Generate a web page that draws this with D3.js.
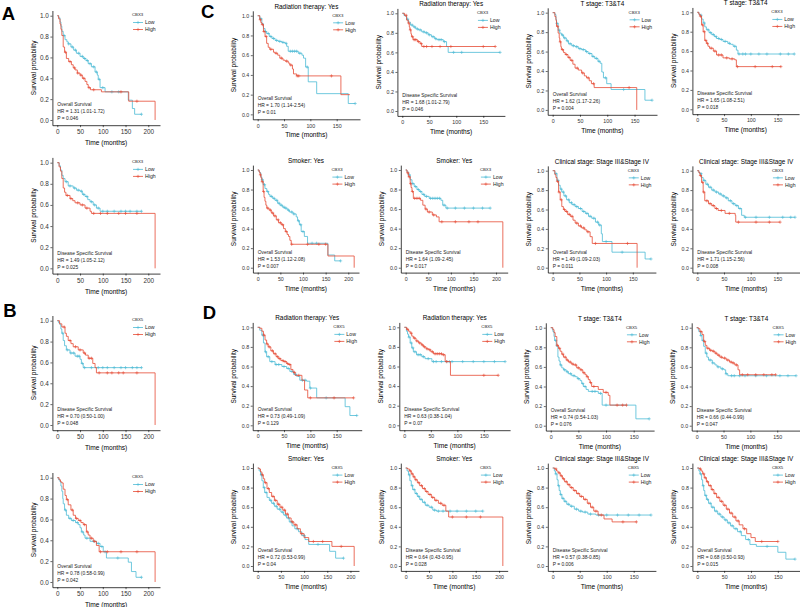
<!DOCTYPE html>
<html><head><meta charset="utf-8">
<script src="https://cdn.jsdelivr.net/npm/d3@7"></script>
<style>body{margin:0;background:#fff}svg{display:block}</style>
</head><body><svg id="c" width="800" height="607"></svg>
<script>
// ---------------- DATA ----------------
// Each curve: [time (months), survival probability] step points. Censor arrays: times of "+" marks.
const A1_low=[[0,1],[3,.98],[6,.94],[8,.90],[10,.85],[13,.81],[17,.77],[21,.75],[24,.73],[30,.70],[36,.67],[42,.64],[50,.61],[57,.59],[63,.57],[68,.54],[75,.51],[83,.46],[88,.43],[90,.39],[94,.31],[105,.27],[156,.19],[165,.11],[170,.055],[185,.055]];
const A1_lowCens=[15,25,33,40,47,55,60,66,72,80,86,92,100,120,135,185];
const A1_high=[[0,1],[3,.97],[6,.92],[8,.87],[10,.81],[13,.70],[16,.65],[20,.59],[25,.56],[31,.53],[35,.50],[39,.48],[44,.45],[50,.43],[55,.40],[61,.37],[65,.34],[68,.31],[73,.29],[97,.27],[157,.18],[215,0]];
const A1_highCens=[18,28,38,45,52,58,70,80,140,175];

const A2_low=[[0,1],[4,.97],[7,.93],[10,.88],[13,.85],[17,.82],[24,.78],[35,.76],[42,.74],[50,.73],[55,.70],[61,.68],[67,.65],[72,.63],[79,.60],[86,.57],[94,.54],[185,.54]];
const A2_lowCens=[20,28,38,46,53,58,65,75,82,90,100,110,125,140,150,160,175,185];
const A2_high=[[0,1],[4,.96],[7,.92],[10,.85],[13,.76],[16,.72],[19,.69],[28,.66],[34,.64],[39,.62],[50,.60],[61,.57],[72,.54],[75,.52],[215,0]];
const A2_highCens=[22,30,45,55,65,80,95,110,135,150,175];

const B1_low=[[0,1],[3,.98],[6,.96],[8,.92],[10,.88],[13,.81],[16,.76],[20,.72],[28,.69],[39,.66],[50,.63],[53,.59],[57,.55],[185,.55]];
const B1_lowCens=[12,22,30,36,44,48,55,60,75,90,100,110,125,140,150,165,175,185];
const B1_high=[[0,1],[5,.97],[10,.94],[17,.88],[20,.85],[24,.81],[30,.78],[35,.75],[46,.72],[57,.69],[62,.67],[68,.64],[78,.59],[83,.55],[86,.50],[215,0]];
const B1_highCens=[15,28,40,50,60,70,75,92,110,120,135,145,175];

const B2_low=[[0,1],[3,.98],[6,.96],[8,.92],[10,.87],[12,.80],[13,.75],[16,.69],[20,.64],[25,.61],[31,.59],[40,.57],[46,.55],[50,.52],[53,.48],[58,.45],[61,.42],[72,.39],[86,.37],[94,.34],[101,.29],[108,.23],[156,.19],[163,.10],[173,.045],[185,.045]];
const B2_lowCens=[18,28,35,44,55,65,80,90,98,105,133,185];
const B2_high=[[0,1],[4,.98],[7,.96],[10,.95],[13,.89],[17,.83],[20,.79],[24,.74],[30,.69],[35,.64],[40,.61],[46,.59],[52,.57],[57,.55],[64,.48],[68,.45],[72,.42],[79,.39],[86,.35],[92,.29],[215,0]];
const B2_highCens=[22,33,42,50,60,66,75,82,95,110,140,175];

const C11_low=[[0,1],[4,.97],[8,.92],[11,.87],[14,.84],[17,.82],[22,.79],[27,.77],[33,.75],[39,.74],[46,.73],[52,.72],[55,.69],[58,.64],[77,.62],[84,.60],[87,.57],[91,.48],[96,.33],[112,.21],[172,.11],[185,.11]];
const C11_lowCens=[6,15,20,25,30,36,42,48,54,62,66,70,74,80,94,185];
const C11_high=[[0,1],[4,.96],[6,.93],[8,.91],[11,.84],[14,.79],[17,.72],[20,.68],[23,.66],[30,.63],[33,.62],[38,.60],[42,.57],[48,.55],[52,.54],[58,.52],[61,.50],[66,.46],[68,.41],[74,.39],[158,.20],[175,.20]];
const C11_highCens=[5,9,12,16,25,35,45,55,63,75,78,140];

const C12_low=[[0,1],[3,.98],[5,.97],[8,.94],[11,.91],[15,.88],[20,.86],[25,.84],[30,.83],[36,.81],[42,.80],[48,.78],[54,.76],[60,.74],[64,.73],[76,.71],[82,.66],[85,.60],[181,.60]];
const C12_lowCens=[10,18,23,28,33,40,45,50,57,62,68,72,78,95,110,181];
const C12_high=[[0,1],[4,.98],[8,.93],[11,.90],[13,.86],[14,.83],[16,.79],[17,.76],[20,.73],[28,.71],[33,.69],[36,.66],[172,.66]];
const C12_highCens=[7,12,15,19,22,25,30,35,40,45,55,70,90,150,172];

const C13_low=[[0,1],[4,.98],[6,.93],[7,.89],[10,.82],[13,.79],[16,.77],[20,.74],[25,.71],[29,.68],[35,.66],[41,.65],[47,.63],[53,.62],[60,.60],[65,.58],[72,.55],[77,.53],[83,.50],[87,.48],[90,.39],[93,.33],[99,.27],[107,.21],[169,.10],[182,.10]];
const C13_lowCens=[8,12,18,22,27,32,38,44,50,56,62,68,74,80,85,97,130,182];
const C13_high=[[0,1],[4,.96],[6,.92],[7,.86],[10,.79],[12,.74],[13,.70],[15,.65],[16,.62],[20,.59],[23,.57],[28,.54],[32,.51],[37,.47],[41,.43],[47,.41],[53,.38],[58,.35],[62,.33],[67,.30],[71,.27],[76,.23],[154,0]];
const C13_highCens=[9,14,18,25,30,35,45,55,65,75,140];

const C14_low=[[0,1],[3,.98],[5,.97],[8,.93],[11,.89],[14,.85],[17,.82],[22,.79],[27,.77],[32,.75],[36,.73],[42,.72],[48,.70],[57,.68],[62,.67],[67,.65],[73,.61],[76,.57],[181,.57]];
const C14_lowCens=[7,13,20,25,30,35,40,45,52,60,70,78,85,90,100,115,130,155,170,181];
const C14_high=[[0,1],[3,.98],[5,.96],[8,.87],[11,.80],[14,.71],[17,.68],[20,.65],[23,.63],[30,.60],[36,.56],[48,.53],[60,.52],[70,.51],[73,.44],[156,.44]];
const C14_highCens=[6,10,13,16,19,26,33,40,45,55,65,75,108,140,156];

const C21_low=[[0,1],[3,.98],[5,.97],[7,.93],[9,.90],[12,.85],[16,.81],[20,.78],[24,.75],[27,.73],[33,.71],[38,.69],[44,.66],[49,.64],[55,.62],[59,.61],[65,.59],[70,.57],[78,.55],[85,.52],[88,.48],[92,.44],[96,.37],[103,.32],[110,.25],[155,.13],[170,.07],[183,.07]];
const C21_lowCens=[10,15,22,30,36,42,47,52,58,62,68,75,80,90,95,100,120,130,183];
const C21_high=[[0,1],[3,.98],[5,.95],[7,.92],[9,.88],[12,.78],[14,.72],[16,.68],[18,.64],[20,.61],[25,.59],[30,.56],[35,.53],[41,.49],[46,.46],[52,.44],[57,.40],[61,.37],[65,.34],[68,.32],[71,.28],[74,.24],[155,.12],[213,0]];
const C21_highCens=[6,10,13,22,28,33,38,45,50,55,63,75,110,135,150];

const C22_low=[[0,1],[3,.98],[6,.95],[10,.90],[14,.86],[19,.83],[25,.80],[30,.78],[36,.75],[42,.73],[52,.71],[78,.69],[82,.64],[89,.61],[187,.61]];
const C22_lowCens=[8,16,22,28,33,40,46,55,60,65,70,75,85,92,110,130,150,170,187];
const C22_high=[[0,1],[3,.97],[6,.93],[10,.86],[12,.82],[14,.78],[17,.71],[33,.69],[38,.64],[43,.60],[48,.57],[59,.54],[68,.52],[74,.47],[215,0]];
const C22_highCens=[5,8,11,15,20,25,30,45,52,62,80,110,140,160];

const C23_low=[[0,1],[4,.97],[8,.90],[11,.85],[14,.81],[17,.78],[21,.74],[26,.70],[31,.67],[36,.65],[42,.63],[48,.61],[55,.58],[61,.56],[67,.53],[73,.51],[80,.47],[86,.44],[91,.35],[93,.27],[111,.16],[173,.09],[184,.09]];
const C23_lowCens=[6,10,16,20,24,30,35,40,45,52,58,64,70,77,84,88,100,130,184];
const C23_high=[[0,1],[4,.96],[6,.93],[8,.89],[11,.78],[14,.70],[17,.63],[20,.60],[23,.58],[28,.55],[33,.53],[38,.49],[42,.46],[48,.43],[54,.41],[60,.39],[64,.37],[70,.32],[74,.25],[158,0]];
const C23_highCens=[9,12,16,22,26,31,36,45,52,58,66,80,140];

const C24_low=[[0,1],[3,.98],[5,.97],[8,.93],[11,.90],[16,.86],[21,.83],[27,.80],[33,.78],[40,.76],[46,.74],[52,.72],[58,.69],[65,.66],[71,.64],[77,.61],[83,.54],[88,.52],[183,.52]];
const C24_lowCens=[7,13,19,24,30,36,43,49,55,62,68,74,80,90,110,135,160,175,183];
const C24_high=[[0,1],[3,.98],[5,.95],[8,.88],[11,.78],[14,.69],[21,.66],[27,.64],[33,.61],[39,.59],[52,.56],[71,.54],[72,.47],[155,.47]];
const C24_highCens=[6,10,12,18,24,30,36,45,60,77,110,135,155];

const D11_low=[[0,1],[4,.97],[8,.92],[11,.84],[14,.75],[17,.70],[23,.65],[33,.62],[46,.60],[55,.58],[61,.55],[68,.52],[74,.50],[80,.46],[93,.45],[99,.38],[112,.28],[166,.19],[175,.10],[188,.10]];
const D11_lowCens=[10,15,20,27,35,40,50,58,65,72,85,90,100,130,188];
const D11_high=[[0,1],[4,.99],[8,.96],[11,.92],[14,.87],[17,.83],[20,.80],[25,.76],[30,.73],[35,.70],[39,.68],[44,.66],[49,.65],[55,.63],[58,.62],[63,.57],[67,.54],[71,.51],[84,.46],[89,.36],[95,.28],[182,.28]];
const D11_highCens=[12,18,22,28,33,38,42,48,52,57,61,70,78,100,145,182];

const D12_low=[[0,1],[4,.96],[6,.93],[8,.90],[11,.84],[14,.79],[17,.75],[23,.72],[33,.70],[39,.68],[52,.65],[190,.65]];
const D12_lowCens=[9,13,16,20,26,30,36,45,55,60,70,80,85,90,110,130,150,170,190];
const D12_high=[[0,1],[4,.98],[8,.96],[11,.94],[14,.91],[17,.89],[22,.86],[27,.84],[32,.82],[36,.80],[41,.78],[46,.77],[50,.75],[55,.73],[71,.72],[77,.65],[87,.51],[177,.51]];
const D12_highCens=[6,13,19,24,29,34,38,43,48,53,58,62,66,70,74,80,150,177];

const D13_low=[[0,1],[3,.98],[4,.96],[6,.91],[7,.87],[10,.81],[13,.70],[15,.66],[17,.62],[20,.59],[23,.57],[28,.55],[32,.53],[38,.51],[44,.50],[48,.48],[53,.46],[56,.43],[59,.40],[64,.37],[68,.35],[86,.33],[93,.21],[154,.07],[178,.07]];
const D13_lowCens=[9,18,25,30,36,42,50,58,62,75,80,90,100,178];
const D13_high=[[0,1],[4,.98],[6,.95],[8,.91],[11,.82],[14,.79],[17,.76],[20,.73],[23,.70],[28,.67],[32,.65],[37,.63],[41,.62],[47,.59],[53,.57],[58,.54],[62,.52],[65,.50],[68,.47],[71,.44],[74,.40],[86,.37],[95,.34],[104,.31],[107,.21],[137,.21]];
const D13_highCens=[12,16,22,26,30,35,40,45,50,55,60,66,72,78,100,120,130,137];

const D14_low=[[0,1],[3,.98],[4,.96],[7,.92],[10,.87],[13,.81],[16,.74],[19,.70],[22,.67],[29,.64],[34,.62],[38,.60],[45,.58],[51,.57],[54,.53],[58,.51],[185,.51]];
const D14_lowCens=[8,12,18,25,30,40,48,55,65,70,80,90,110,130,155,170,185];
const D14_high=[[0,1],[3,.99],[6,.96],[10,.93],[13,.86],[16,.82],[19,.79],[24,.77],[29,.76],[34,.74],[38,.72],[43,.70],[48,.69],[55,.67],[61,.65],[66,.64],[71,.62],[77,.57],[80,.52],[147,.52]];
const D14_highCens=[8,15,21,26,31,36,41,46,52,58,64,68,74,85,95,110,125,140,147];

const D21_low=[[0,1],[3,.97],[6,.93],[9,.87],[12,.80],[15,.75],[20,.70],[25,.67],[30,.64],[36,.61],[42,.58],[50,.55],[56,.52],[62,.49],[68,.45],[74,.41],[80,.38],[88,.35],[95,.31],[102,.27],[110,.22],[155,.15],[168,.08],[185,.08]];
const D21_lowCens=[8,14,18,28,34,40,47,54,60,66,72,85,100,130,185];
const D21_high=[[0,1],[3,.99],[6,.96],[9,.93],[12,.89],[15,.85],[20,.79],[25,.75],[30,.71],[36,.67],[42,.63],[48,.60],[54,.57],[60,.53],[66,.49],[72,.45],[78,.42],[85,.38],[92,.33],[100,.29],[110,.25],[160,.20],[208,0]];
const D21_highCens=[10,17,23,33,38,45,52,58,64,75,82,95,120,140,180];

const D22_low=[[0,1],[3,.97],[6,.93],[9,.87],[12,.82],[15,.78],[20,.74],[25,.71],[30,.68],[36,.65],[42,.62],[50,.60],[58,.57],[66,.56],[165,.56]];
const D22_lowCens=[8,14,18,23,28,33,40,46,55,62,70,80,95,110,130,150,165];
const D22_high=[[0,1],[4,.99],[8,.97],[12,.94],[16,.91],[20,.88],[25,.85],[30,.82],[36,.79],[42,.76],[48,.73],[55,.70],[62,.67],[70,.64],[78,.62],[86,.56],[92,.50],[208,0]];
const D22_highCens=[10,14,18,22,28,34,40,45,52,58,65,75,82,100,130,160];

const D23_low=[[0,1],[3,.97],[5,.94],[8,.88],[10,.82],[12,.77],[14,.73],[17,.69],[21,.66],[26,.63],[32,.61],[40,.58],[48,.56],[55,.55],[65,.53],[80,.52],[182,.52]];
const D23_lowCens=[6,11,15,19,23,29,35,44,52,60,70,85,100,120,140,160,182];
const D23_high=[[0,1],[4,.99],[7,.97],[10,.95],[14,.92],[18,.89],[22,.86],[27,.83],[32,.80],[38,.77],[44,.74],[50,.71],[57,.68],[64,.64],[70,.60],[76,.56],[84,.52],[95,.48],[110,.45],[155,.45]];
const D23_highCens=[6,12,16,20,25,30,35,41,47,53,60,67,73,80,90,130,155];

const D24_low=[[0,1],[3,.97],[5,.94],[8,.88],[10,.82],[12,.77],[14,.72],[17,.68],[21,.64],[26,.60],[32,.56],[38,.53],[44,.50],[50,.47],[56,.44],[62,.41],[68,.38],[75,.35],[82,.31],[90,.27],[98,.22],[110,.20],[150,.14],[165,.07],[182,.07]];
const D24_lowCens=[6,11,16,19,24,29,35,41,47,53,59,65,72,80,95,130,182];
const D24_high=[[0,1],[4,.99],[7,.97],[10,.94],[13,.90],[17,.86],[21,.82],[26,.78],[31,.74],[36,.70],[42,.66],[48,.62],[54,.58],[60,.54],[66,.50],[72,.46],[78,.42],[85,.38],[92,.33],[100,.29],[108,.25],[150,.25]];
const D24_highCens=[6,12,15,19,24,28,33,39,45,51,57,63,70,76,88,120,150];

// Panel texts
const panelTitles=["","","","",
 "Radiation therapy: Yes","Radiation therapy: Yes","T stage: T3&T4","T stage: T3&T4",
 "Smoker: Yes","Smoker: Yes","Clinical stage: Stage III&Stage IV","Clinical stage: Stage III&Stage IV",
 "Radiation therapy: Yes","Radiation therapy: Yes","T stage: T3&T4","T stage: T3&T4",
 "Smoker: Yes","Smoker: Yes","Clinical stage: Stage III&Stage IV","Clinical stage: Stage III&Stage IV"];
const panelGenes=["CBX3","CBX3","CBX5","CBX5","CBX3","CBX3","CBX3","CBX3","CBX3","CBX3","CBX3","CBX3",
 "CBX5","CBX5","CBX5","CBX5","CBX5","CBX5","CBX5","CBX5"];
const OS="Overall Survival", DSS="Disease Specific Survival";
const panelEndpoints=[OS,DSS,DSS,OS, OS,DSS,OS,DSS, OS,DSS,OS,DSS, OS,DSS,OS,DSS, OS,DSS,DSS,OS];
const panelHR=["1.31 (1.01-1.72)","1.49 (1.05-2.12)","0.70 (0.50-1.00)","0.78 (0.58-0.99)",
 "1.70 (1.14-2.54)","1.68 (1.01-2.79)","1.62 (1.17-2.26)","1.65 (1.08-2.51)",
 "1.53 (1.12-2.08)","1.64 (1.09-2.45)","1.49 (1.09-2.03)","1.71 (1.15-2.56)",
 "0.73 (0.49-1.09)","0.63 (0.38-1.04)","0.74 (0.54-1.03)","0.66 (0.44-0.99)",
 "0.72 (0.53-0.99)","0.64 (0.43-0.95)","0.57 (0.38-0.85)","0.68 (0.50-0.93)"];
const panelP=["0.046","0.025","0.048","0.042","0.01","0.046","0.004","0.018","0.007","0.017","0.011","0.008",
 "0.129","0.07","0.076","0.047","0.04","0.028","0.006","0.015"];
const ticks200=[0,50,100,150,200], ticks150=[0,50,100,150];
const panelXTicks=[ticks200,ticks200,ticks200,ticks200, ticks150,ticks150,ticks150,ticks150,
 ticks200,ticks200,ticks150,ticks150, ticks150,ticks150,ticks150,ticks150, ticks200,ticks200,ticks150,ticks150];
const yTicks=[0,0.2,0.4,0.6,0.8,1.0];
const groupLabels=["Low","High"];
const panelLetters=["A","B","C","D"];

const lowCurves=[A1_low,A2_low,B1_low,B2_low,C11_low,C12_low,C13_low,C14_low,C21_low,C22_low,C23_low,C24_low,
 D11_low,D12_low,D13_low,D14_low,D21_low,D22_low,D23_low,D24_low];
const lowCens=[A1_lowCens,A2_lowCens,B1_lowCens,B2_lowCens,C11_lowCens,C12_lowCens,C13_lowCens,C14_lowCens,
 C21_lowCens,C22_lowCens,C23_lowCens,C24_lowCens,D11_lowCens,D12_lowCens,D13_lowCens,D14_lowCens,
 D21_lowCens,D22_lowCens,D23_lowCens,D24_lowCens];
const highCurves=[A1_high,A2_high,B1_high,B2_high,C11_high,C12_high,C13_high,C14_high,C21_high,C22_high,C23_high,C24_high,
 D11_high,D12_high,D13_high,D14_high,D21_high,D22_high,D23_high,D24_high];
const highCens=[A1_highCens,A2_highCens,B1_highCens,B2_highCens,C11_highCens,C12_highCens,C13_highCens,C14_highCens,
 C21_highCens,C22_highCens,C23_highCens,C24_highCens,D11_highCens,D12_highCens,D13_highCens,D14_highCens,
 D21_highCens,D22_highCens,D23_highCens,D24_highCens];

// ---------------- LAYOUT / STYLE ----------------
const rects=[[52.4,10.5,107.6,114.7],[52.4,157.4,107.6,116.2],[52.4,315.5,107.6,114.7],[52.4,472.5,107.6,114.7],
 [252.8,10.8,107.2,108.5],[397.4,8.4,107.5,107.5],[547.7,7.8,109.3,107],[692.4,7.45,106.7,106.7],
 [252.9,165.1,106.1,107.5],[400.8,165.1,106.9,107.5],[547.8,165.85,108.1,106.7],[692.4,165.85,107.5,106.7],
 [252.7,322.4,109,107.8],[399.3,322.4,110.8,107.8],[545.8,322.8,108.3,107.8],[691.7,322.8,109.3,107.8],
 [252.9,463.1,106.1,107.8],[400.8,463.1,106.9,107.8],[547.8,463.1,108.1,107.8],[692.4,463.1,107.5,107.8]];
const letterPos=[[1.7,20],[3.3,316.7],[201,18.3],[202.7,319.3]];
const colLow="#4DBBD5", colHigh="#E64B35";
const FONT="'Liberation Sans', Arial, Helvetica, sans-serif";

const svg=d3.select("#c");
svg.append("rect").attr("width",800).attr("height",607).attr("fill","#fff");

function stepAt(curve,t){let s=curve[0][1];for(const p of curve){if(p[0]<=t)s=p[1];else break;}return s;}

function drawPanel(i){
  const [L,T,W,H]=rects[i];
  const big=i<4;
  const low=lowCurves[i], high=highCurves[i];
  const tmax=d3.max(low.concat(high),d=>d[0]);
  const x=d3.scaleLinear().domain([-0.05*tmax,1.05*tmax]).range([L,L+W]);
  const y=d3.scaleLinear().domain([-0.05,1.05]).range([T+H,T]);
  const g=svg.append("g");
  const tfs=big?6.4:5.3;

  const xa=g.append("g").attr("transform",`translate(0,${T+H})`)
    .call(d3.axisBottom(x).tickValues(panelXTicks[i]).tickSize(2).tickSizeOuter(0).tickPadding(2.5).tickFormat(d3.format("d")));
  const ya=g.append("g").attr("transform",`translate(${L},0)`)
    .call(d3.axisLeft(y).tickValues(yTicks).tickSize(2).tickSizeOuter(0).tickPadding(1.5).tickFormat(d3.format(".1f")));
  [xa,ya].forEach(a=>{
    a.attr("font-family",FONT).attr("font-size",tfs);
    a.select(".domain").attr("stroke","#000").attr("stroke-width",0.75);
    a.selectAll(".tick line").attr("stroke","#000").attr("stroke-width",0.6);
    a.selectAll(".tick text").attr("fill","#333");
  });

  // titles
  if(panelTitles[i]) g.append("text").attr("x",L+W/2).attr("y",T-2.2).attr("text-anchor","middle")
    .attr("font-family",FONT).attr("font-size",6.4).attr("fill","#000").text(panelTitles[i]);
  g.append("text").attr("x",L+W/2).attr("y",T+H+(big?20:18)).attr("text-anchor","middle")
    .attr("font-family",FONT).attr("font-size",6.6).attr("fill","#000").text("Time (months)");
  g.append("text").attr("transform",`translate(${L-16.5},${T+H/2}) rotate(-90)`).attr("text-anchor","middle")
    .attr("font-family",FONT).attr("font-size",6.5).attr("fill","#000").text("Survival probability");

  // curves
  const line=d3.line().x(d=>x(d[0])).y(d=>y(d[1])).curve(d3.curveStepAfter);
  const series=[[low,lowCens[i],colLow],[high,highCens[i],colHigh]];
  series.forEach(([c,cens,col])=>{
    g.append("path").attr("d",line(c)).attr("fill","none").attr("stroke",col).attr("stroke-width",0.8);
    const h=1.6;
    g.append("path").attr("d",cens.map(t=>{const px=x(t),py=y(stepAt(c,t));
        return `M${px-h},${py}H${px+h}M${px},${py-h}V${py+h}`;}).join(""))
      .attr("stroke",col).attr("stroke-width",0.6).attr("fill","none");
  });

  // annotation
  const ann=[panelEndpoints[i],"HR = "+panelHR[i],"P = "+panelP[i]];
  ann.forEach((s,k)=>g.append("text").attr("x",x(0)).attr("y",T+H-19+7*k)
    .attr("font-family",FONT).attr("font-size",4.9).attr("fill","#222").text(s));

  // legend
  const tx=L+0.74*W;
  g.append("text").attr("x",tx).attr("y",T+5.8).attr("font-family",FONT).attr("font-size",4.3)
    .attr("fill","#222").text(panelGenes[i]);
  [colLow,colHigh].forEach((col,k)=>{
    const ly=T+12+7*k;
    g.append("line").attr("x1",tx+1).attr("x2",tx+11).attr("y1",ly).attr("y2",ly).attr("stroke",col).attr("stroke-width",0.8);
    g.append("path").attr("d",`M${tx+4.4},${ly}H${tx+7.6}M${tx+6},${ly-1.6}V${ly+1.6}`).attr("stroke",col).attr("stroke-width",0.6);
    g.append("text").attr("x",tx+13).attr("y",ly+1.8).attr("font-family",FONT).attr("font-size",5.2)
      .attr("fill","#222").text(groupLabels[k]);
  });
}
for(let i=0;i<20;i++) drawPanel(i);

panelLetters.forEach((l,k)=>svg.append("text").attr("x",letterPos[k][0]).attr("y",letterPos[k][1])
  .attr("font-family",FONT).attr("font-weight","bold").attr("font-size",18.5).attr("fill","#000").text(l));
</script>
</body></html>
